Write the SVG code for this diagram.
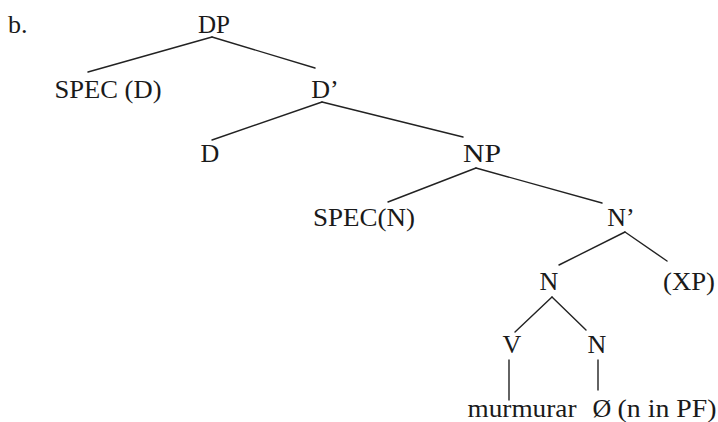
<svg xmlns="http://www.w3.org/2000/svg" width="718" height="422" viewBox="0 0 718 422">
<style>
text{font-family:"Liberation Serif","Times New Roman",serif;font-size:26px;fill:#1a1a1a;text-anchor:middle}
.edges line{stroke:#222;stroke-width:1.4;stroke-linecap:round}
</style>
<rect width="718" height="422" fill="#fff"/>
<text x="8" y="33" style="text-anchor:start">b.</text>
<g class="edges" id="connectors">
<line x1="212" y1="37" x2="88" y2="72"/>
<line x1="212" y1="37" x2="315" y2="68"/>
<line x1="322" y1="102" x2="212" y2="140"/>
<line x1="322" y1="102" x2="463" y2="137"/>
<line x1="476" y1="168" x2="388" y2="202"/>
<line x1="476" y1="168" x2="602" y2="203"/>
<line x1="625" y1="232" x2="559" y2="265"/>
<line x1="625" y1="232" x2="667" y2="261"/>
<line x1="552" y1="297" x2="515" y2="332"/>
<line x1="552" y1="297" x2="586" y2="330"/>
<line x1="509" y1="360" x2="509" y2="400"/>
<line x1="598" y1="360" x2="598" y2="390"/>
</g>
<g id="DP"><text x="214" y="33" textLength="32" lengthAdjust="spacingAndGlyphs">DP</text></g>
<g id="SPEC_D"><text x="108" y="98" textLength="107" lengthAdjust="spacingAndGlyphs">SPEC (D)</text></g>
<g id="Dbar"><text x="325" y="98">D’</text></g>
<g id="D"><text x="210" y="162">D</text></g>
<g id="NP"><text x="482" y="162" textLength="38" lengthAdjust="spacingAndGlyphs">NP</text></g>
<g id="SPEC_N"><text x="364" y="226" textLength="102" lengthAdjust="spacingAndGlyphs">SPEC(N)</text></g>
<g id="Nbar"><text x="621" y="226">N’</text></g>
<g id="N1"><text x="549" y="290">N</text></g>
<g id="XP"><text x="689" y="290" textLength="52" lengthAdjust="spacingAndGlyphs">(XP)</text></g>
<g id="V"><text x="512" y="353">V</text></g>
<g id="N2"><text x="597" y="353">N</text></g>
<g id="murmurar"><text x="522" y="417" textLength="109" lengthAdjust="spacingAndGlyphs">murmurar</text></g>
<g id="null"><text x="602" y="417">Ø</text><text x="667" y="417" textLength="99" lengthAdjust="spacingAndGlyphs">(n in PF)</text></g>
</svg>
